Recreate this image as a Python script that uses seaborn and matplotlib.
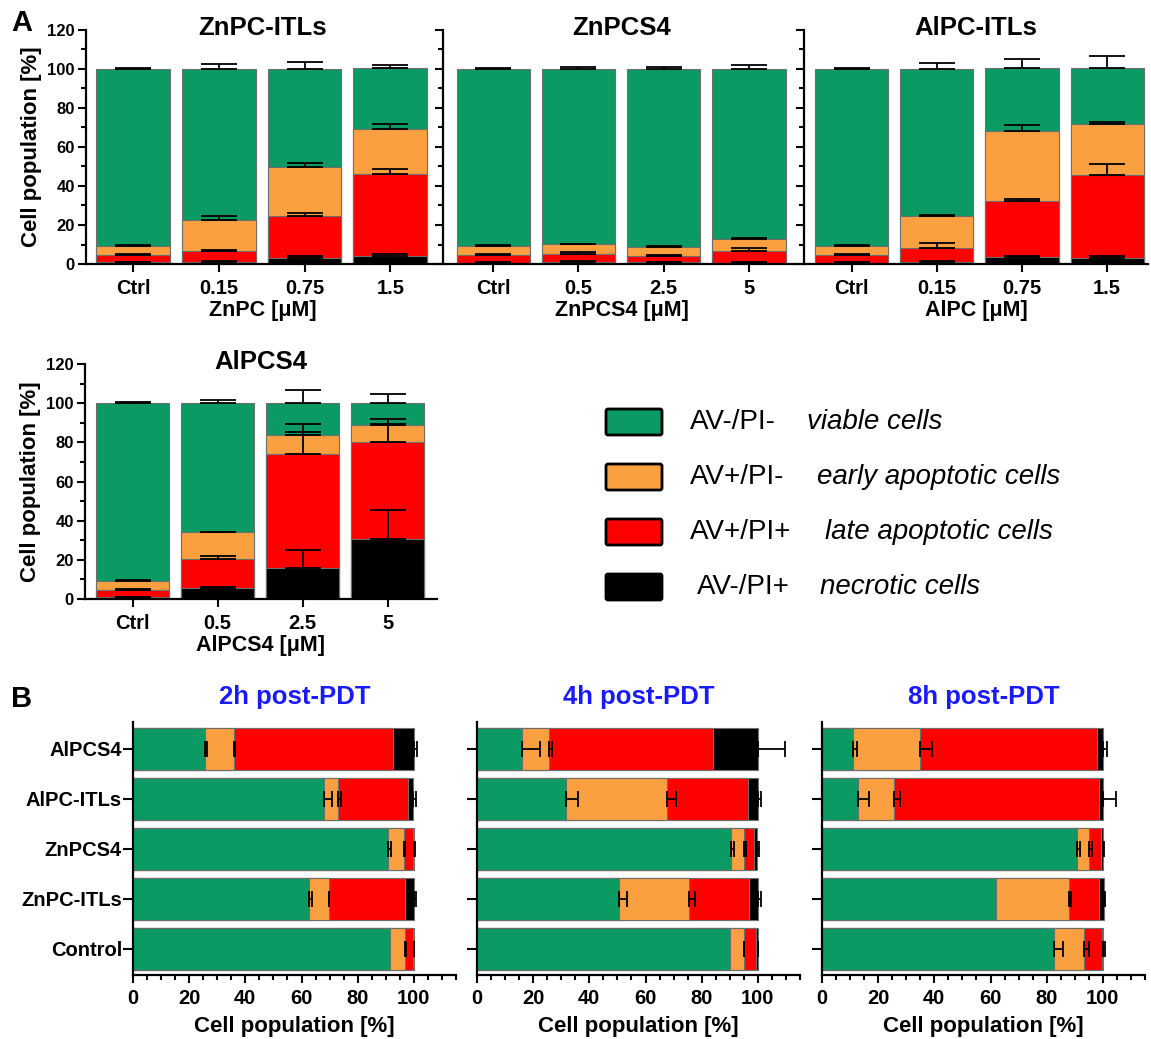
import numpy as np
import matplotlib
matplotlib.use('Agg')
import matplotlib.pyplot as plt
import seaborn as sns
from matplotlib.ticker import MultipleLocator
from matplotlib.patches import FancyBboxPatch

sns.set_style('ticks')
plt.rcParams['font.family'] = ['Liberation Sans', 'DejaVu Sans']
plt.rcParams['font.weight'] = 'bold'
plt.rcParams['axes.labelweight'] = 'bold'
plt.rcParams['axes.linewidth'] = 1.6
plt.rcParams['axes.edgecolor'] = 'black'
plt.rcParams['text.color'] = 'black'
plt.rcParams['axes.labelcolor'] = 'black'
plt.rcParams['xtick.color'] = 'black'
plt.rcParams['ytick.color'] = 'black'

# colours: viable, early apoptotic, late apoptotic, necrotic
c_viable = '#0B9A63'
c_early = '#FBA040'
c_late = '#FF0000'
c_necro = '#000000'

# ---------------- panel A: dose response (one list per panel) ----------------
a_titles = ['ZnPC-ITLs', 'ZnPCS4', 'AlPC-ITLs', 'AlPCS4']
a_xlabels = ['ZnPC [μM]', 'ZnPCS4 [μM]', 'AlPC [μM]', 'AlPCS4 [μM]']
a_doses = [['Ctrl', '0.15', '0.75', '1.5'],
           ['Ctrl', '0.5', '2.5', '5'],
           ['Ctrl', '0.15', '0.75', '1.5'],
           ['Ctrl', '0.5', '2.5', '5']]

a_necrotic = [[0.8, 0.9, 2.9, 3.9], [0.7, 0.9, 0.8, 0.5], [0.7, 0.8, 3.4, 3.1], [0.8, 5.6, 15.7, 30.7]]
a_late = [[3.8, 5.8, 21.5, 42.4], [3.9, 4.1, 3.3, 6.0], [3.9, 7.6, 28.9, 42.5], [3.8, 14.8, 58.2, 49.7]]
a_early = [[4.8, 15.7, 25.5, 22.9], [4.8, 5.1, 4.8, 6.5], [4.8, 16.4, 35.7, 26.0], [4.8, 13.7, 10.1, 8.2]]
a_viable = [[90.6, 77.6, 50.1, 31.1], [90.6, 89.9, 91.1, 87.0], [90.6, 75.2, 32.3, 28.7], [90.6, 65.9, 16.0, 11.4]]

a_necrotic_sd = [[0.3, 0.4, 1.0, 1.2], [0.3, 0.5, 0.4, 0.4], [0.3, 0.7, 0.9, 1.0], [0.3, 0.5, 9.5, 14.8]]
a_late_sd = [[0.3, 0.5, 1.8, 2.4], [0.3, 1.0, 0.7, 1.5], [0.3, 2.5, 1.2, 5.9], [0.3, 1.6, 15.5, 11.3]]
a_early_sd = [[0.3, 2.0, 1.7, 2.4], [0.3, 0.3, 0.4, 0.5], [0.3, 0.3, 3.1, 1.2], [0.3, 0.3, 1.2, 0.8]]
a_viable_sd = [[0.4, 2.4, 3.6, 1.6], [0.4, 1.2, 1.2, 1.9], [0.4, 3.0, 4.6, 6.5], [0.4, 1.4, 6.6, 4.6]]

# ---------------- panel B: time after PDT ----------------
b_titles = ['2h post-PDT', '4h post-PDT', '8h post-PDT']
b_groups = ['AlPCS4', 'AlPC-ITLs', 'ZnPCS4', 'ZnPC-ITLs', 'Control']

b_viable = [[25.7, 68.0, 90.8, 62.8, 91.4], [15.9, 31.6, 90.5, 50.4, 89.9], [11.2, 12.7, 90.8, 61.8, 82.5]]
b_early = [[10.4, 4.9, 5.6, 6.9, 5.5], [9.9, 36.0, 4.5, 25.0, 5.0], [23.8, 13.1, 4.1, 26.1, 10.7]]
b_late = [[56.3, 25.0, 3.4, 27.1, 2.9], [58.4, 28.8, 3.8, 21.6, 4.5], [62.9, 72.8, 4.5, 10.9, 6.6]]
b_necrotic = [[7.6, 1.9, 0.2, 3.3, 0.2], [15.9, 3.8, 1.0, 3.2, 0.5], [2.2, 1.5, 0.5, 1.6, 0.2]]

b_viable_sd = [[0.8, 3.0, 1.0, 1.1, 0.0], [6.4, 4.5, 1.1, 2.9, 0.0], [1.3, 4.2, 1.0, 0.0, 3.3]]
b_early_sd = [[0.3, 1.1, 0.5, 0.2, 0.4], [0.8, 3.1, 0.6, 2.3, 0.1], [4.3, 1.9, 1.2, 0.7, 1.9]]
b_late_sd = [[0.0] * 5, [0.0] * 5, [0.0] * 5]
b_necrotic_sd = [[1.1, 0.8, 0.4, 0.6, 0.2], [9.6, 1.0, 0.6, 0.8, 0.3], [1.4, 4.7, 0.6, 0.3, 0.8]]

legend_codes = ['AV-/PI-', 'AV+/PI-', 'AV+/PI+', 'AV-/PI+']
legend_names = ['viable cells', 'early apoptotic cells', 'late apoptotic cells', 'necrotic cells']

W, H = 1151, 1039
fig = plt.figure(figsize=(W / 100, H / 100), dpi=100)


def px_axes(l, t, r, b):
    return fig.add_axes([l / W, 1 - b / H, (r - l) / W, (b - t) / H])


def stacked_columns(ax, doses, parts, sds, colors):
    cum = np.cumsum(np.array(parts), axis=0)
    pos = np.arange(len(doses))
    # draw the tallest stack first so smaller ones sit on top
    for i in range(len(parts) - 1, -1, -1):
        sns.barplot(x=doses, y=cum[i], color=colors[i], saturation=1, width=0.86,
                    edgecolor='#6e6e6e', linewidth=0.8, errorbar=None, ax=ax)
    for i in range(len(parts)):
        e = np.array(sds[i])
        m = e > 0
        ax.errorbar(pos[m], cum[i][m], yerr=[np.zeros(m.sum()), e[m]], fmt='none',
                    ecolor='black', elinewidth=1.3, capsize=13, capthick=1.3, zorder=5)


def stacked_rows(ax, groups, parts, sds, colors):
    cum = np.cumsum(np.array(parts), axis=0)
    pos = np.arange(len(groups))
    for i in range(len(parts) - 1, -1, -1):
        sns.barplot(x=cum[i], y=groups, orient='h', color=colors[i], saturation=1, width=0.84,
                    edgecolor='#6e6e6e', linewidth=0.8, errorbar=None, ax=ax)
    for i in range(len(parts)):
        e = np.array(sds[i])
        m = e > 0
        ax.errorbar(cum[i][m], pos[m], xerr=[np.zeros(m.sum()), e[m]], fmt='none',
                    ecolor='black', elinewidth=1.3, capsize=6, capthick=1.3, zorder=5)


# ---- panel A ----
a_boxes = [(86, 30, 440, 264), (443, 30, 800, 264), (804, 30, 1148, 264), (85, 364, 437, 599)]
a_xlims = [(-0.55, 3.58), (-0.59, 3.6), (-0.56, 3.48), (-0.56, 3.58)]
colors_a = [c_necro, c_late, c_early, c_viable]
for k in range(4):
    ax = px_axes(*a_boxes[k])
    parts = [a_necrotic[k], a_late[k], a_early[k], a_viable[k]]
    sds = [a_necrotic_sd[k], a_late_sd[k], a_early_sd[k], a_viable_sd[k]]
    stacked_columns(ax, a_doses[k], parts, sds, colors_a)
    ax.set_xlim(*a_xlims[k])
    ax.set_ylim(0, 120)
    ax.yaxis.set_major_locator(MultipleLocator(20))
    ax.yaxis.set_minor_locator(MultipleLocator(10))
    ax.tick_params(axis='x', labelsize=14.5, length=6, width=1.5, pad=5)
    ax.tick_params(axis='y', which='major', labelsize=12, length=6, width=1.5, pad=2)
    ax.tick_params(axis='y', which='minor', length=3.5, width=1.5)
    ax.set_xlabel(a_xlabels[k], fontsize=15.5, labelpad=1)
    if k in (0, 3):
        ax.set_ylabel('Cell population [%]', fontsize=16, labelpad=4)
    else:
        ax.set_ylabel('')
        ax.tick_params(axis='y', labelleft=False)
    sns.despine(ax=ax)
    ax.text(0.5, 1.01, a_titles[k], transform=ax.transAxes, ha='center', va='center',
            fontsize=18.5, fontweight='bold')

# ---- legend ----
ax_leg = px_axes(590, 390, 1100, 610)
ax_leg.set_xlim(0, 510)
ax_leg.set_ylim(220, 0)
ax_leg.axis('off')
leg_colors = [c_viable, c_early, c_late, c_necro]
leg_code_x = [100, 100, 100, 107]
leg_name_x = [217, 227, 235, 230]
for i in range(4):
    yc = 32 + 55 * i
    ax_leg.add_patch(FancyBboxPatch((16, yc - 13), 56, 26, boxstyle='round,pad=0,rounding_size=2',
                                    facecolor=leg_colors[i], edgecolor='black', linewidth=2))
    ax_leg.text(leg_code_x[i], yc, legend_codes[i], fontsize=20, fontweight='normal',
                va='center', ha='left')
    ax_leg.text(leg_name_x[i], yc, legend_names[i], fontsize=20, fontweight='normal',
                style='italic', va='center', ha='left')

# ---- panel B ----
b_boxes = [(133, 722, 456, 975), (477, 722, 800, 975), (822, 722, 1145, 975)]
colors_b = [c_viable, c_early, c_late, c_necro]
for k in range(3):
    ax = px_axes(*b_boxes[k])
    parts = [b_viable[k], b_early[k], b_late[k], b_necrotic[k]]
    sds = [b_viable_sd[k], b_early_sd[k], b_late_sd[k], b_necrotic_sd[k]]
    stacked_rows(ax, b_groups, parts, sds, colors_b)
    ax.set_xlim(0, 115)
    ax.set_ylim(4.52, -0.54)
    ax.xaxis.set_major_locator(MultipleLocator(20))
    ax.xaxis.set_minor_locator(MultipleLocator(5))
    ax.set_xticks([0, 20, 40, 60, 80, 100])
    ax.tick_params(axis='x', which='major', labelsize=14.5, length=6, width=1.5, pad=4)
    ax.tick_params(axis='x', which='minor', length=3.5, width=1.5)
    ax.tick_params(axis='y', labelsize=14.5, length=7, width=1.5, pad=1)
    ax.set_xlabel('Cell population [%]', fontsize=16, labelpad=6)
    ax.set_ylabel('')
    if k > 0:
        ax.tick_params(axis='y', labelleft=False)
    sns.despine(ax=ax)
    ax.text(0.5, 1.1, b_titles[k], transform=ax.transAxes, ha='center', va='center',
            fontsize=18.5, fontweight='bold', color='#1a1aff')

fig.text(22 / W, 1 - 23 / H, 'A', fontsize=21, fontweight='bold', ha='center', va='center')
fig.text(22 / W, 1 - 699 / H, 'B', fontsize=21, fontweight='bold', ha='center', va='center')

fig.savefig('out.png', dpi=100)
